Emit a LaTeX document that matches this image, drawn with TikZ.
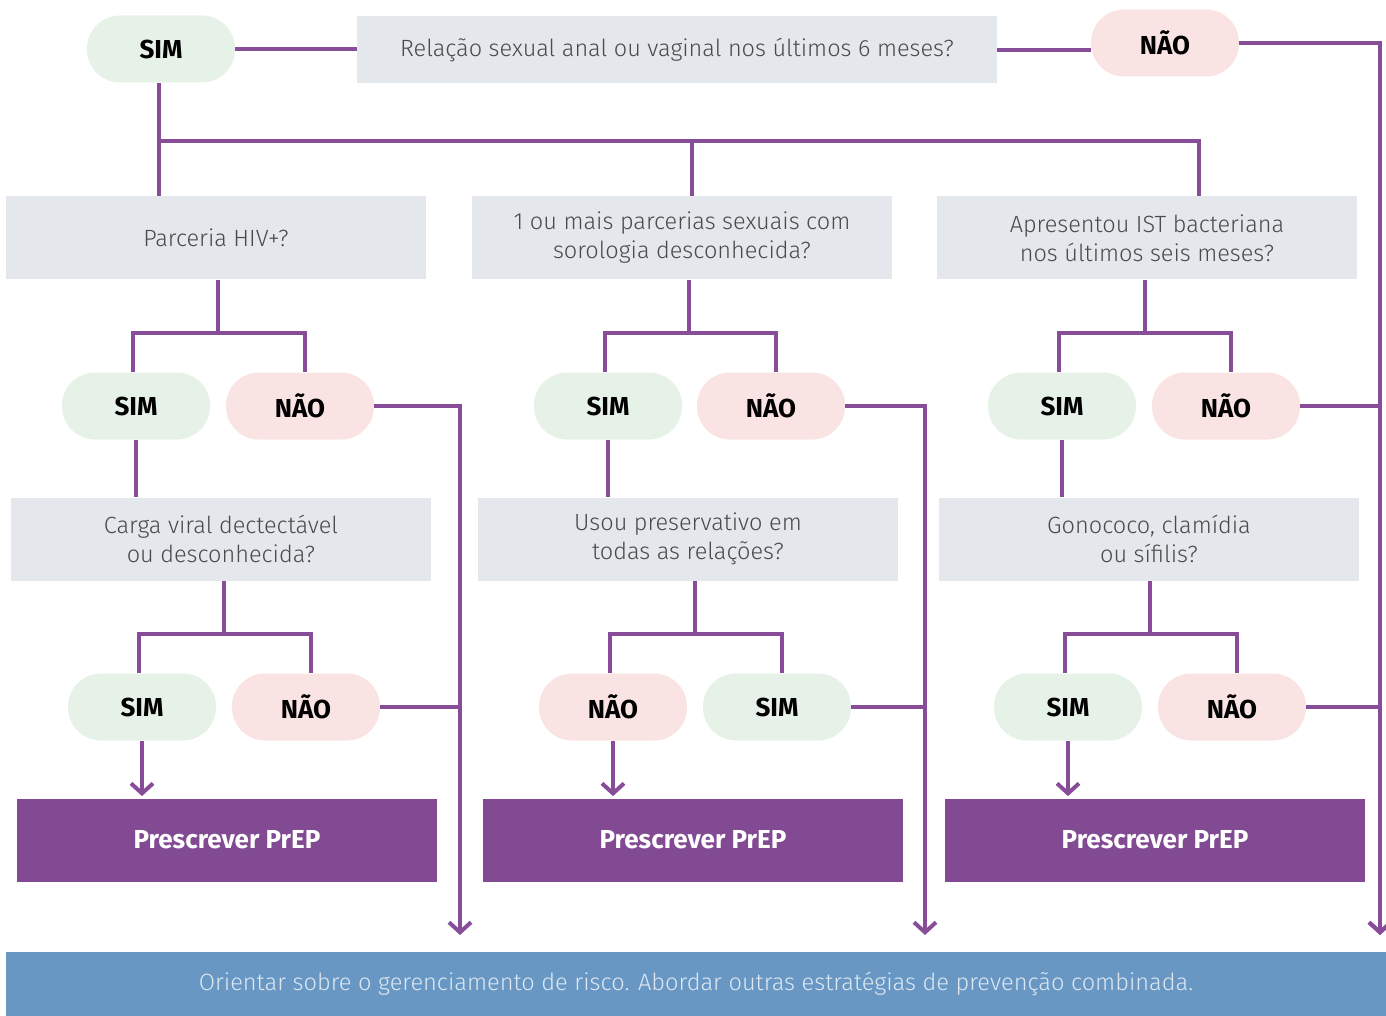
\documentclass[tikz,border=0pt]{standalone}
\usepackage{fontspec}
\setmainfont{Fira Sans}
\newfontfamily\lightfont{Fira Sans Light}
\usetikzlibrary{arrows.meta}
\definecolor{linepurple}{HTML}{884D99}
\definecolor{prepurple}{HTML}{834A94}
\definecolor{boxgray}{HTML}{E4E7EB}
\definecolor{textgray}{HTML}{4A4A4A}
\definecolor{yesgreen}{HTML}{E6F2E7}
\definecolor{nopink}{HTML}{F9E3E3}
\definecolor{bannerblue}{HTML}{6897C3}
\definecolor{bannertext}{HTML}{DCE7F2}

\begin{document}
\begin{tikzpicture}[x = 0.5pt, y = -0.5pt, every node/.style = {align = center, inner sep = 0pt},
	question/.style = {rectangle, fill = boxgray, text = textgray, minimum width = 210pt, minimum height = 41.5pt, font = \lightfont\fontsize{11.75}{14.5}\selectfont},
	pillyes/.style = {rectangle, rounded corners = 16.5pt, fill = yesgreen, minimum width = 74pt, minimum height = 33.5pt, font = \bfseries\fontsize{13}{15}\selectfont},
	pillno/.style = {pillyes, fill = nopink},
	prep/.style = {rectangle, fill = prepurple, text = white, minimum width = 210pt, minimum height = 41.5pt, font = \bfseries\fontsize{13}{15}\selectfont},
	link/.style = {draw = linepurple, line width = 2pt},
	tip/.style = {-{Straight Barb[length = 5pt, width = 11pt]}, shorten > = 1pt}]

	\useasboundingbox (0, 0) rectangle (1386, 1016);

	\node (S0)  at ( 161,  49) [pillyes] {SIM};
	\node (Q0)  at ( 677,  50) [question, minimum width = 320pt, minimum height = 33.5pt] {Relação sexual anal ou vaginal nos últimos 6 meses?};
	\node (N0)  at (1165,  43) [pillno] {NÃO};

	\node (QA1) at ( 216, 238) [question] {Parceria HIV+?};
	\node (QB1) at ( 682, 238) [question] {1 ou mais parcerias sexuais com\\sorologia desconhecida?};
	\node (QC1) at (1147, 238) [question] {Apresentou IST bacteriana\\nos últimos seis meses?};

	\node (SA1) at ( 136, 406) [pillyes] {SIM};
	\node (NA1) at ( 300, 406) [pillno]  {NÃO};
	\node (SB1) at ( 608, 406) [pillyes] {SIM};
	\node (NB1) at ( 771, 406) [pillno]  {NÃO};
	\node (SC1) at (1062, 406) [pillyes] {SIM};
	\node (NC1) at (1226, 406) [pillno]  {NÃO};

	\node (QA2) at ( 221, 539) [question] {Carga viral dectectável\\ou desconhecida?};
	\node (QB2) at ( 688, 539) [question] {Usou preservativo em\\todas as relações?};
	\node (QC2) at (1149, 539) [question] {Gonococo, clamídia\\ou sífilis?};

	\node (SA2) at ( 142, 707) [pillyes] {SIM};
	\node (NA2) at ( 306, 707) [pillno]  {NÃO};
	\node (NB2) at ( 613, 707) [pillno]  {NÃO};
	\node (SB2) at ( 777, 707) [pillyes] {SIM};
	\node (SC2) at (1068, 707) [pillyes] {SIM};
	\node (NC2) at (1232, 707) [pillno]  {NÃO};

	\node (PA)  at ( 227, 840) [prep] {Prescrever PrEP};
	\node (PB)  at ( 693, 840) [prep] {Prescrever PrEP};
	\node (PC)  at (1155, 840) [prep] {Prescrever PrEP};

	\node (OUT) at ( 696, 984) [rectangle, fill = bannerblue, text = bannertext, minimum width = 690pt, minimum height = 32pt, font = \lightfont\fontsize{11.8}{14.5}\selectfont] {Orientar sobre o gerenciamento de risco. Abordar outras estratégias de prevenção combinada.};

	\coordinate (J0)  at ( 159, 141);
	\coordinate (J0C) at (1199, 141);
	\coordinate (JA1) at ( 218, 333);
	\coordinate (JB1) at ( 689, 333);
	\coordinate (JC1) at (1145, 333);
	\coordinate (JA2) at ( 224, 634);
	\coordinate (JB2) at ( 695, 634);
	\coordinate (JC2) at (1150, 634);
	\coordinate (EA)  at ( 460, 937);
	\coordinate (EB)  at ( 925, 937);
	\coordinate (EC)  at (1380, 937);

	\draw [link] (S0.east) -- (S0.east -| Q0.west);
	\draw [link] (Q0.east) -- (Q0.east -| N0.west);
	\draw [link] (S0.south -| J0) -- (J0 |- QA1.north);
	\draw [link] (J0) -- (J0C) -- (J0C |- QC1.north);
	\draw [link] ([xshift = 5pt]QB1.north) -- ([xshift = 5pt]QB1.north |- J0);

	\foreach \q/\j/\s/\n in {QA1/JA1/SA1/NA1, QB1/JB1/SB1/NB1, QC1/JC1/SC1/NC1, QA2/JA2/SA2/NA2, QB2/JB2/NB2/SB2, QC2/JC2/SC2/NC2}
		\draw [link] (\q.south -| \j) -- (\j) ([xshift = -1.5pt]\s.north) |- (\j) -| ([xshift = 2.5pt]\n.north);
	\foreach \s/\q in {SA1/QA2, SB1/QB2, SC1/QC2}
		\draw [link] (\s.south) -- (\s.south |- \q.north);
	\foreach \s/\p in {SA2/PA, NB2/PB, SC2/PC}
		\draw [link, tip] (\s.south) -- (\s.south |- \p.north);
	\foreach \n/\e in {N0/EC, NA1/EA, NB1/EB, NC1/EC}
		\draw [link, tip] (\n.east) -| (\e);
	\foreach \n/\e in {NA2/EA, SB2/EB, NC2/EC}
		\draw [link] (\n.east) -- (\n.east -| \e);

\end{tikzpicture}
\end{document}
